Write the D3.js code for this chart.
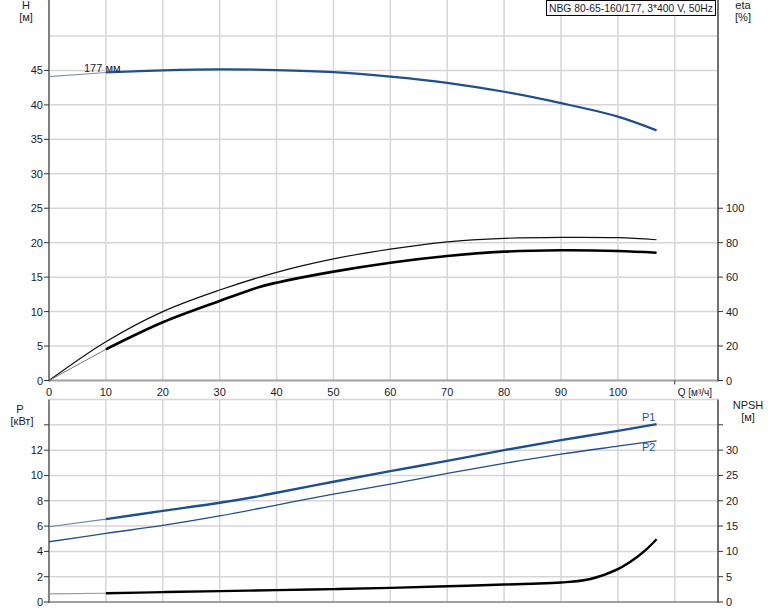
<!DOCTYPE html>
<html><head><meta charset="utf-8">
<script src="https://cdn.jsdelivr.net/npm/d3@7/dist/d3.min.js"></script>
<style>
html,body{margin:0;padding:0;background:#fff;}
svg{display:block;font-family:"Liberation Sans",Arial,sans-serif;}
</style></head>
<body>
<svg id="chart" width="774" height="611"></svg>
<script>
// ---- data ----
const title = "NBG 80-65-160/177, 3*400 V, 50Hz";
const qTicks = [0,10,20,30,40,50,60,70,80,90,100];
const hTicks = [0,5,10,15,20,25,30,35,40,45];
const etaTicks = [0,20,40,60,80,100];
const pTicks = [0,2,4,6,8,10,12];
const npshTicks = [0,5,10,15,20,25,30];

const hQ = [0,10,20,30,40,50,60,70,80,90,100,106.8];
const hVal = [44.1,44.7,45.0,45.15,45.05,44.75,44.1,43.2,41.9,40.25,38.3,36.3];

const etaUpQ = [0,10,20,30,40,50,60,70,80,90,100,106.8];
const etaUpVal = [0,22.5,40,52.5,62.8,70.6,76.3,80.5,82.5,83.1,82.9,81.7];

const etaLoQ = [0,10,20,30,37,40,50,60,70,80,90,100,106.8];
const etaLoVal = [0,18.1,33.8,46.2,54.3,56.8,63.2,68.4,72.3,74.8,75.6,75.2,74.2];

const p1Q = [0,10,20,30,37,40,50,60,70,80,90,100,106.8];
const p1Val = [5.94,6.55,7.2,7.84,8.37,8.63,9.5,10.34,11.15,12.0,12.79,13.52,14.05];

const p2Q = [0,10,20,30,40,50,60,70,80,90,100,106.8];
const p2Val = [4.76,5.42,6.05,6.8,7.66,8.52,9.31,10.16,10.95,11.68,12.31,12.73];

const npQ = [0,10,20,30,40,50,60,70,80,85,90,95,100,103.5,105.2,106.8];
const npVal = [1.6,1.72,1.95,2.15,2.35,2.55,2.8,3.1,3.45,3.6,3.85,4.5,6.5,9.0,10.6,12.4];

const opStart = 10; // start of bold (operating) part

// ---- drawing ----
const svg = d3.select("#chart");
const X0 = 49, X1 = 718;
const x = d3.scaleLinear().domain([0,117.6]).range([X0,X1]);
const yH = d3.scaleLinear().domain([0,55]).range([380.5,1.5]);
const yEta = d3.scaleLinear().domain([0,220]).range([380.5,1.5]);
const yP = d3.scaleLinear().domain([0,16]).range([602,399.5]);
const yN = d3.scaleLinear().domain([0,40]).range([602,399.5]);

const gridC = "#d6d6d6", txtC = "#1a1a2e", blue = "#1f4f8c";

// grids top
const gT = svg.append("g");
qTicks.slice(1).concat([110]).forEach(q=>{
  gT.append("line").attr("x1",x(q)).attr("x2",x(q)).attr("y1",0).attr("y2",yH(0))
    .attr("stroke",gridC).attr("stroke-width",1.5);
});
[5,10,15,20,25,30,35,40,45,50].forEach(h=>{
  gT.append("line").attr("x1",X0).attr("x2",X1).attr("y1",yH(h)).attr("y2",yH(h))
    .attr("stroke",gridC).attr("stroke-width",1.5);
});
// grids bottom
qTicks.slice(1).concat([110]).forEach(q=>{
  gT.append("line").attr("x1",x(q)).attr("x2",x(q)).attr("y1",yP(16)).attr("y2",yP(0))
    .attr("stroke",gridC).attr("stroke-width",1.5);
});
[2,4,6,8,10,12,14,16].forEach(p=>{
  gT.append("line").attr("x1",X0).attr("x2",X1).attr("y1",yP(p)).attr("y2",yP(p))
    .attr("stroke",gridC).attr("stroke-width",1.5);
});

// axes lines
const ax = svg.append("g");
ax.append("line").attr("x1",X0).attr("x2",X1).attr("y1",yH(0)).attr("y2",yH(0)).attr("stroke","#a0a0a0").attr("stroke-width",2);
ax.append("line").attr("x1",X0).attr("x2",X0).attr("y1",0).attr("y2",yH(0)+1).attr("stroke","#808080").attr("stroke-width",2);
ax.append("line").attr("x1",X1).attr("x2",X1).attr("y1",0).attr("y2",yH(0)+1).attr("stroke","#707070").attr("stroke-width",2);
ax.append("line").attr("x1",X0).attr("x2",X1).attr("y1",yP(0)).attr("y2",yP(0)).attr("stroke","#a0a0a0").attr("stroke-width",2);
ax.append("line").attr("x1",X0).attr("x2",X0).attr("y1",yP(16)).attr("y2",yP(0)+1).attr("stroke","#808080").attr("stroke-width",2);
ax.append("line").attr("x1",X1).attr("x2",X1).attr("y1",yP(16)).attr("y2",yP(0)+1).attr("stroke","#707070").attr("stroke-width",2);

// ticks & labels
const fs = 11;
hTicks.forEach(h=>{
  ax.append("line").attr("x1",X0-5).attr("x2",X0).attr("y1",yH(h)).attr("y2",yH(h)).attr("stroke","#333");
  ax.append("text").attr("x",X0-6).attr("y",yH(h)+4).attr("text-anchor","end").attr("font-size",fs).attr("fill",txtC).text(h);
});
etaTicks.forEach(e=>{
  ax.append("line").attr("x1",X1).attr("x2",X1+5).attr("y1",yEta(e)).attr("y2",yEta(e)).attr("stroke","#333");
  ax.append("text").attr("x",X1+8).attr("y",yEta(e)+4).attr("font-size",fs).attr("fill",txtC).text(e);
});
qTicks.forEach(q=>{
  ax.append("text").attr("x",x(q)).attr("y",yH(0)+15).attr("text-anchor","middle").attr("font-size",fs).attr("fill",txtC).text(q);
});
ax.append("line").attr("x1",x(110)).attr("x2",x(110)).attr("y1",yH(0)).attr("y2",yH(0)+4).attr("stroke","#333");
ax.append("text").attr("x",x(110)+3).attr("y",yH(0)+15).attr("font-size",10).attr("fill",txtC).text("Q [м³/ч]");

pTicks.concat([14]).forEach(p=>{
  ax.append("line").attr("x1",X0-5).attr("x2",X0).attr("y1",yP(p)).attr("y2",yP(p)).attr("stroke","#333");
  if(p<=12) ax.append("text").attr("x",X0-6).attr("y",yP(p)+4).attr("text-anchor","end").attr("font-size",fs).attr("fill",txtC).text(p);
});
npshTicks.concat([35]).forEach(n=>{
  ax.append("line").attr("x1",X1).attr("x2",X1+5).attr("y1",yN(n)).attr("y2",yN(n)).attr("stroke","#333");
  if(n<=30) ax.append("text").attr("x",X1+8).attr("y",yN(n)+4).attr("font-size",fs).attr("fill",txtC).text(n);
});

// axis titles
const at = (t,xx,yy)=>ax.append("text").attr("x",xx).attr("y",yy).attr("text-anchor","middle").attr("font-size",fs).attr("fill",txtC).text(t);
at("H",26,9); at("[м]",26,21);
at("eta",743,9); at("[%]",743,21);
at("P",20,413); at("[кВт]",22,425);
at("NPSH",748,409); at("[м]",748,421);

// title box
svg.append("rect").attr("x",546.5).attr("y",0.5).attr("width",169).attr("height",15).attr("fill","#fff").attr("stroke","#000").attr("stroke-width",1);
svg.append("text").attr("x",549).attr("y",12).attr("font-size",10.6).attr("fill",txtC)
  .attr("textLength",164).attr("lengthAdjust","spacingAndGlyphs").text(title);

// curves
function curve(qs, vs, ys, color, wThin, wBold, thinColor, boldFrom){
  const pts = qs.map((q,i)=>[q,vs[i]]);
  const line = d3.line().x(d=>x(d[0])).y(d=>ys(d[1])).curve(d3.curveCatmullRom.alpha(0.5));
  if(boldFrom==null){
    svg.append("path").attr("d",line(pts)).attr("fill","none").attr("stroke",color).attr("stroke-width",wThin);
    return;
  }
  const a = pts.filter(d=>d[0]<=boldFrom), b = pts.filter(d=>d[0]>=boldFrom);
  svg.append("path").attr("d",line(a)).attr("fill","none").attr("stroke",thinColor).attr("stroke-width",wThin);
  svg.append("path").attr("d",line(b)).attr("fill","none").attr("stroke",color).attr("stroke-width",wBold).attr("stroke-linecap","butt");
}
curve(hQ,hVal,yH,blue,1.2,2.2,"#7f93b3",opStart);
curve(etaUpQ,etaUpVal,yEta,"#111",1.2,null,null,null);
curve(etaLoQ,etaLoVal,yEta,"#000",1,2.6,"#777",opStart);
curve(p1Q,p1Val,yP,blue,1.1,2.4,"#6d86ad",opStart);
curve(p2Q,p2Val,yP,blue,1.3,null,null,null);
curve(npQ,npVal,yN,"#000",1.1,2.4,"#999",opStart);

// curve labels
svg.append("text").attr("x",84).attr("y",72).attr("font-size",fs).attr("fill",txtC).text("177 мм");
svg.append("text").attr("x",642).attr("y",421).attr("font-size",fs).attr("fill",blue).text("P1");
svg.append("text").attr("x",642).attr("y",451).attr("font-size",fs).attr("fill",blue).text("P2");
</script>
</body></html>
